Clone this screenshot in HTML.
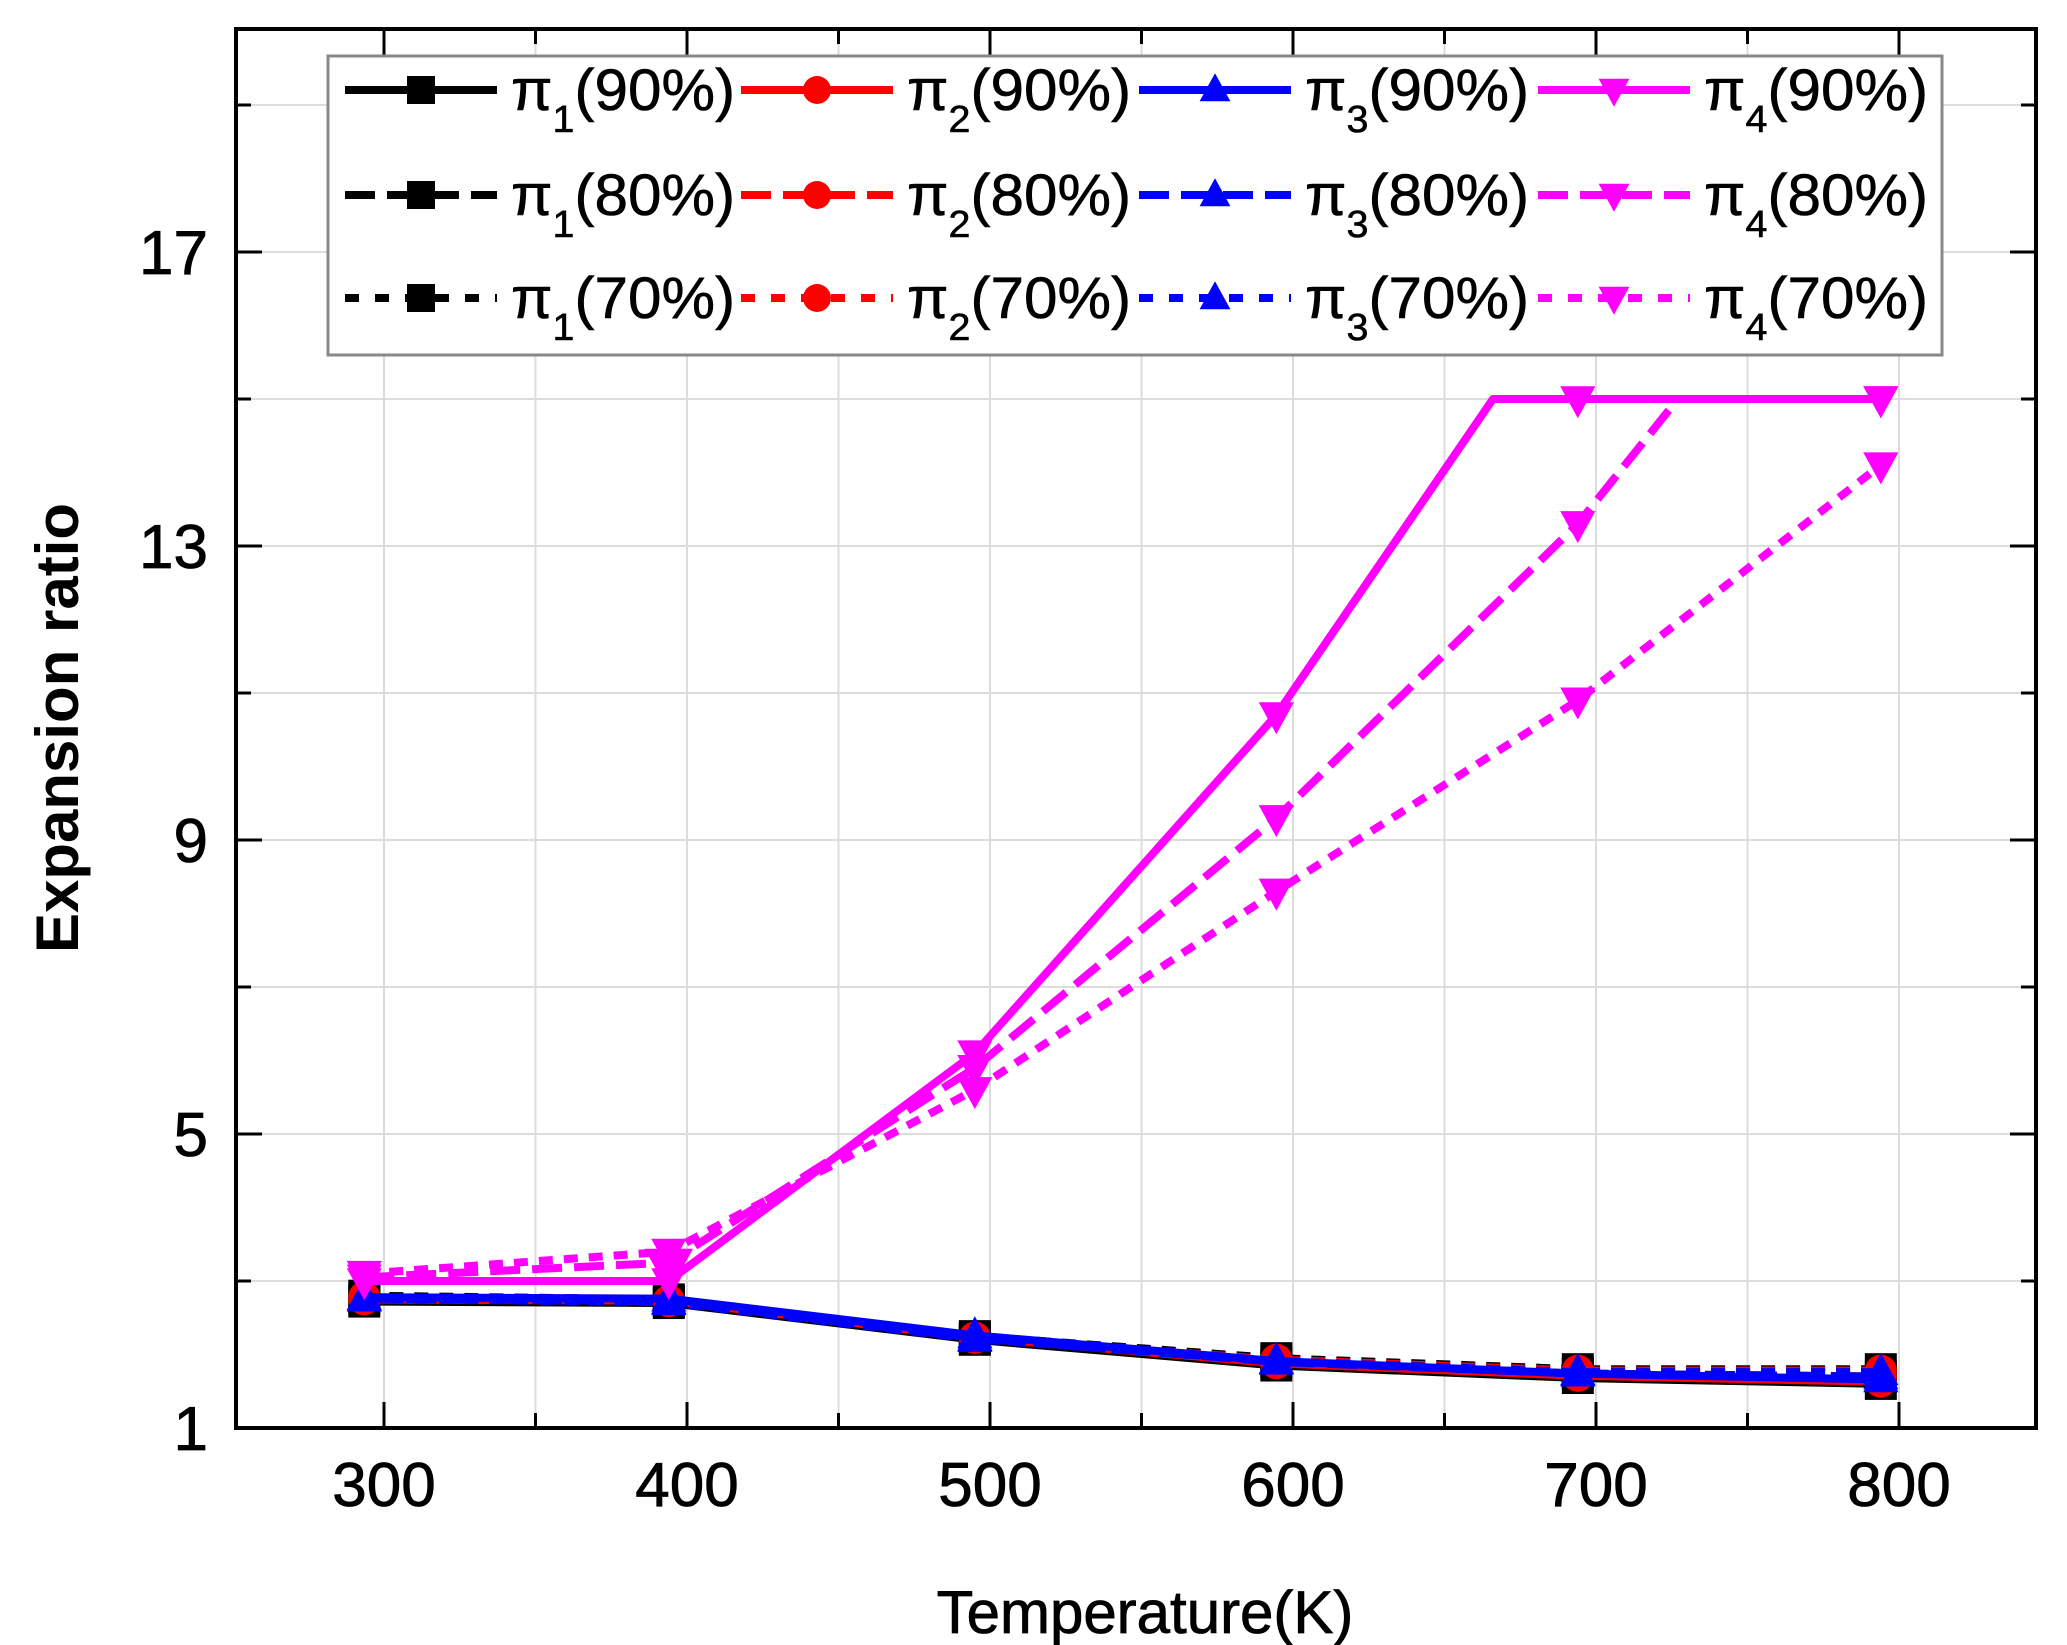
<!DOCTYPE html>
<html><head><meta charset="utf-8"><style>
html,body{margin:0;padding:0;background:#fff;}
svg{display:block;font-family:"Liberation Sans",sans-serif;}
</style></head><body>
<svg id="s" width="2067" height="1645" xmlns="http://www.w3.org/2000/svg"></svg>
<script>
const s=document.getElementById('s');
const L=236,R=2036,T=29,B=1428;
const X=v=>384+(v-300)*3.03;
const Y=v=>1428-(v-1)*73.5;
let h='';
for(let v=250;v<=850;v+=50){const x=X(v);if(x>L&&x<R)h+=`<line x1="${x}" y1="${T}" x2="${x}" y2="${B}" stroke="#dcdcdc" stroke-width="2"/>`;}
for(let v=3;v<=19;v+=2){const y=Y(v);h+=`<line x1="${L}" y1="${y}" x2="${R}" y2="${y}" stroke="#dcdcdc" stroke-width="2"/>`;}
for(let v=250;v<=850;v+=50){const x=X(v);if(x>L&&x<R){const len=v%100==0?26:15;h+=`<line x1="${x}" y1="${B}" x2="${x}" y2="${B-len}" stroke="#000" stroke-width="3"/><line x1="${x}" y1="${T}" x2="${x}" y2="${T+len}" stroke="#000" stroke-width="3"/>`;}}
for(let v=3;v<=19;v+=2){const y=Y(v);const len=(v-1)%4==0?26:15;h+=`<line x1="${L}" y1="${y}" x2="${L+len}" y2="${y}" stroke="#000" stroke-width="3"/><line x1="${R}" y1="${y}" x2="${R-len}" y2="${y}" stroke="#000" stroke-width="3"/>`;}
for(let v=300;v<=800;v+=100)h+=`<text x="${X(v)}" y="1506" font-size="62" text-anchor="middle" stroke="#000" stroke-width="0.8">${v}</text>`;
for(const v of [1,5,9,13,17])h+=`<text x="208" y="${Y(v)+22}" font-size="62" text-anchor="end" stroke="#000" stroke-width="0.8">${v}</text>`;
h+=`<text x="1145" y="1633" font-size="60" text-anchor="middle" stroke="#000" stroke-width="0.8">Temperature(K)</text>`;
h+=`<text transform="translate(78,728) rotate(-90)" font-size="60" font-weight="bold" text-anchor="middle">Expansion ratio</text>`;
const xs=[293.5,394,495,594.5,694,794];
const dash={s:'',d:'30 12',t:'14 11'};
function mark(t,x,y,c,sz){
 if(t=='sq')return `<rect x="${x-sz}" y="${y-sz}" width="${2*sz}" height="${2*sz}" fill="${c}"/>`;
 if(t=='ci')return `<circle cx="${x}" cy="${y}" r="${sz}" fill="${c}"/>`;
 if(t=='up')return `<polygon points="${x},${y-sz*1.2} ${x-sz*1.1},${y+sz*0.8} ${x+sz*1.1},${y+sz*0.8}" fill="${c}"/>`;
 return `<polygon points="${x},${y+sz*1.2} ${x-sz*1.1},${y-sz*0.8} ${x+sz*1.1},${y-sz*0.8}" fill="${c}"/>`;
}
function series(pts,c,d,m,sz){
 let p=pts.map(q=>X(q[0])+','+Y(q[1])).join(' ');
 h+=`<polyline points="${p}" fill="none" stroke="${c}" stroke-width="8" stroke-dasharray="${d}" stroke-linejoin="round"/>`;
 pts.forEach(q=>{if(xs.includes(q[0]))h+=mark(m,X(q[0]),Y(q[1]),c,sz||16);});
}
const low=[2.72,2.7,2.2,1.85,1.68,1.6];
const lowd=[2.8,2.75,2.25,1.95,1.8,1.8];
const cols=['#000','#f00','#00f'],mk=['sq','ci','up'];
for(let i=0;i<3;i++){
 series(xs.map((x,k)=>[x,lowd[k]-0.02*i]),cols[i],dash.t,mk[i]);
 series(xs.map((x,k)=>[x,(low[k]+lowd[k])/2]),cols[i],dash.d,mk[i]);
 series(xs.map((x,k)=>[x,low[k]+0.03*i]),cols[i],'',mk[i]);
}
const M='#ff00ff';
series([[293.5,3.1],[394,3.4],[495,5.6],[594.5,8.3],[694,10.9],[794,14.1]],M,dash.t,'dn');
series([[293.5,3.05],[394,3.25],[495,5.9],[594.5,9.3],[694,13.3],[727,15.0],[794,15.0]],M,dash.d,'dn');
series([[293.5,3.0],[394,3.0],[495,6.1],[594.5,10.7],[666,15.0],[694,15.0],[794,15.0]],M,'','dn');
h+=mark('dn',X(394),Y(3.2),M,22);
h+=`<rect x="${L}" y="${T}" width="${R-L}" height="${B-T}" fill="none" stroke="#000" stroke-width="4"/>`;
h+=`<rect x="328" y="56" width="1614" height="299" fill="#fff" stroke="#888" stroke-width="3"/>`;
const rows=[90,195,298],pct=['90%','80%','70%'],d3=['','30 12','14 16'];
const colx=[345,741,1139,1538];
const lc=['#000','#f00','#00f',M],lm=['sq','ci','up','dn'];
for(let r=0;r<3;r++)for(let c=0;c<4;c++){
 const x0=colx[c],y=rows[r];
 h+=`<line x1="${x0}" y1="${y}" x2="${x0+152}" y2="${y}" stroke="${lc[c]}" stroke-width="8" stroke-dasharray="${d3[r]}"/>`;
 h+=mark(lm[c],x0+76,y,lc[c],14);
 h+=`<text x="${x0+166}" y="${y+20}" font-size="58" textLength="224" lengthAdjust="spacingAndGlyphs" stroke="#000" stroke-width="0.6">π<tspan font-size="38" dy="22">${c+1}</tspan><tspan dy="-22">(${pct[r]})</tspan></text>`;
}
s.innerHTML=h;
</script>
</body></html>
